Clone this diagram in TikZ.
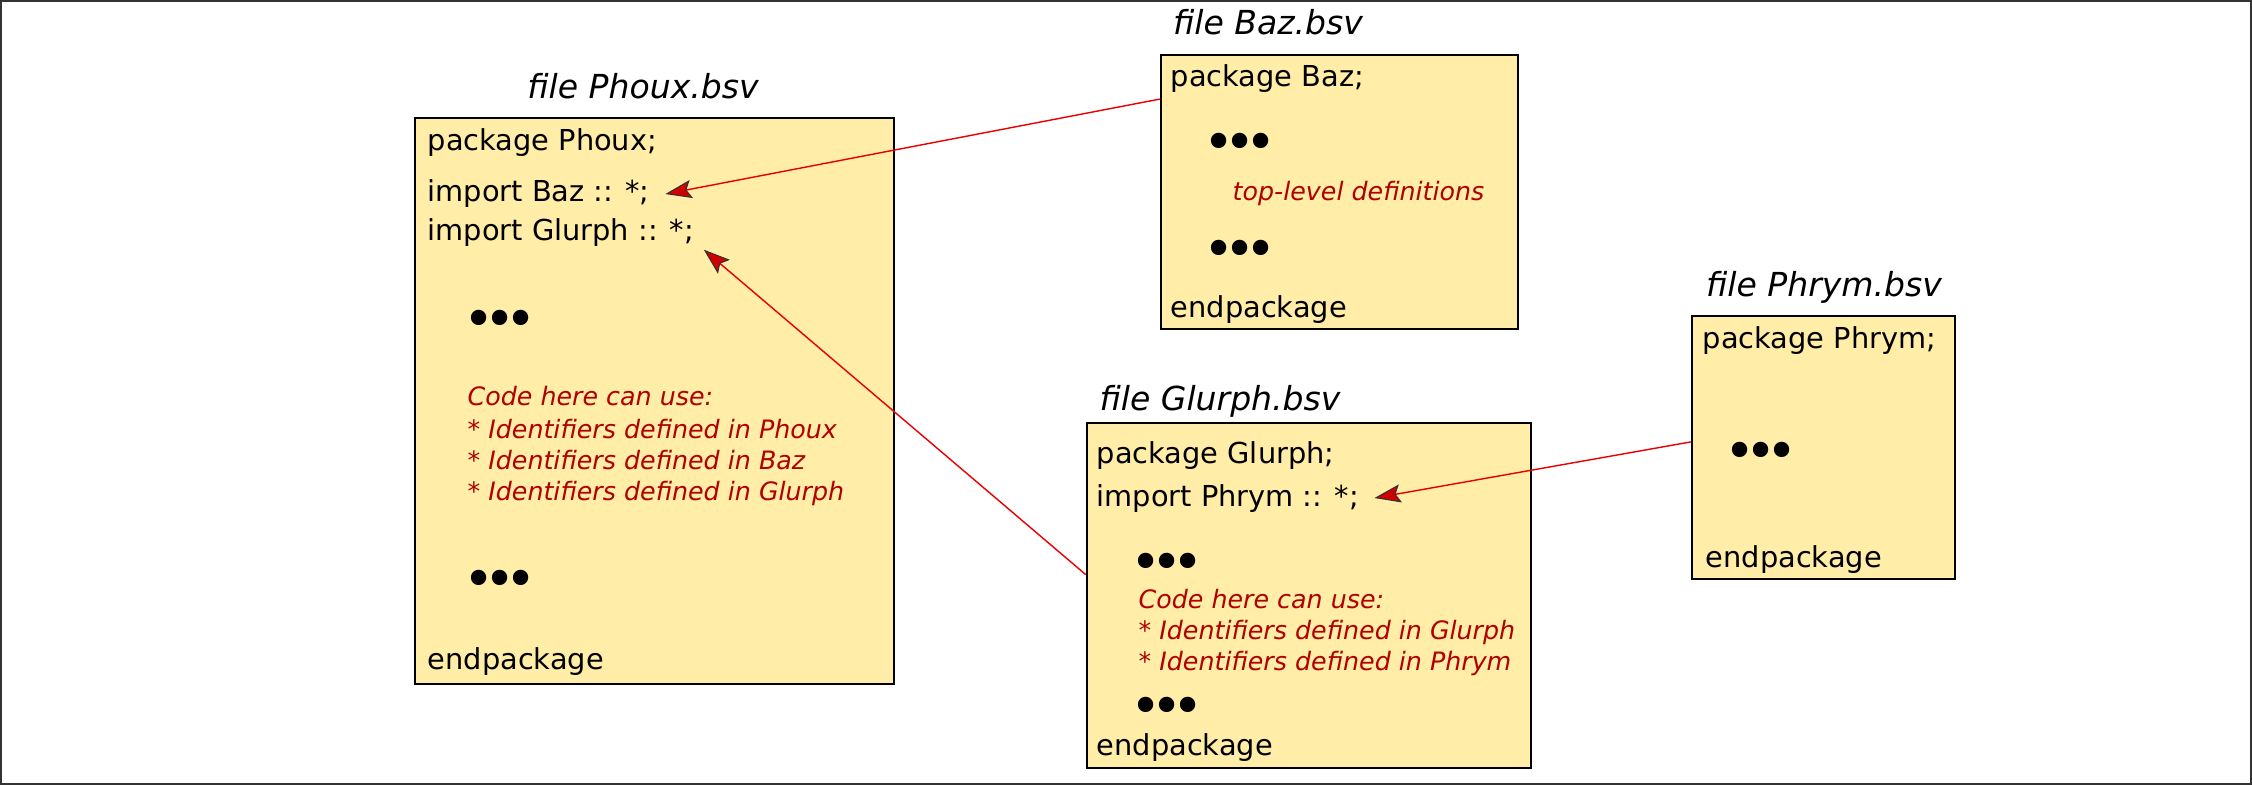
\documentclass[tikz,border=0pt]{standalone}
\usepackage{fontspec}
\setmainfont{DejaVu Sans}
\usepackage{xcolor}
\usetikzlibrary{
		arrows.meta,
		calc,
		fit
	}
\definecolor{pkgfill}{RGB}{255,237,168}
\definecolor{notered}{RGB}{176,0,0}
\definecolor{arrowred}{RGB}{232,0,0}
\definecolor{tipred}{RGB}{210,0,0}
\newcommand{\threedots}{•\kern-2.9pt•\kern-2.9pt•}
\tikzset{
		>=stealth,
		pkgbox/.style={draw=black, line width=0.7pt, fill=pkgfill, inner sep=0pt},
		codeline/.style={anchor=base west, inner sep=0pt, font=\fontsize{8.2}{10}\selectfont},
		note/.style={anchor=base west, inner sep=0pt, text=notered, font=\fontsize{7.2}{9}\selectfont\itshape},
		fname/.style={anchor=base, inner sep=0pt, font=\fontsize{9.4}{11}\selectfont\itshape},
		bdots/.style={anchor=base west, inner sep=0pt, font=\fontsize{15}{16}\selectfont},
		imp/.style={draw=arrowred, line width=0.4pt, -{Stealth[length=7.5pt, width=5.2pt, inset=1.4pt, color=black!80, fill=tipred, line width=0.3pt]}}
	}

\begin{document}
\begin{tikzpicture}[x=0.01cm, y=-0.01cm]
        % the page and its frame
        \useasboundingbox (0,0) rectangle (2252,785);
        \draw[line width=0.6pt, black!80] (1,1) rectangle (2251,784);

        % draw the packages
        \node[pkgbox, fit={(415,118) (894,684)}] (phoux) {};
        \node[pkgbox, fit={(1161,55) (1518,329)}] (baz) {};
        \node[pkgbox, fit={(1087,423) (1531,768)}] (glurph) {};
        \node[pkgbox, fit={(1692,316) (1955,579)}] (phrym) {};

        % the file names
        \node[fname] (phouxname) at (643,99) {file Phoux.bsv};
        \node[fname] (bazname) at (1268,35) {file Baz.bsv};
        \node[fname] (glurphname) at (1220,410) {file Glurph.bsv};
        \node[fname] (phrymname) at (1824,296) {file Phrym.bsv};

        % Phoux.bsv
        \node[codeline] (phouxpkg) at (427,150) {package Phoux;};
        \node[codeline] (phouxbaz) at (427,202) {import Baz :: *;};
        \node[codeline] (phouxglurph) at (427,240) {import Glurph :: *;};
        \node[bdots] (phouxdotsa) at (463,337) {\threedots};
        \node[note] (phouxnotea) at (467,405) {Code here can use:};
        \node[note] (phouxnoteb) at (467,438) {* Identifiers defined in Phoux};
        \node[note] (phouxnotec) at (467,469) {* Identifiers defined in Baz};
        \node[note] (phouxnoted) at (467,500) {* Identifiers defined in Glurph};
        \node[bdots] (phouxdotsb) at (463,597) {\threedots};
        \node[codeline] (phouxend) at (427,669) {endpackage};

        % Baz.bsv
        \node[codeline] (bazpkg) at (1170,87) {package Baz;};
        \node[bdots] (bazdotsa) at (1203,160) {\threedots};
        \node[note] (baznote) at (1232,201) {top-level definitions};
        \node[bdots] (bazdotsb) at (1203,267) {\threedots};
        \node[codeline] (bazend) at (1170,317) {endpackage};

        % Glurph.bsv
        \node[codeline] (glurphpkg) at (1096,463) {package Glurph;};
        \node[codeline] (glurphphrym) at (1096,506) {import Phrym :: *;};
        \node[bdots] (glurphdotsa) at (1130,580) {\threedots};
        \node[note] (glurphnotea) at (1138,608) {Code here can use:};
        \node[note] (glurphnoteb) at (1138,639) {* Identifiers defined in Glurph};
        \node[note] (glurphnotec) at (1138,670) {* Identifiers defined in Phrym};
        \node[bdots] (glurphdotsb) at (1130,724) {\threedots};
        \node[codeline] (glurphend) at (1096,755) {endpackage};

        % Phrym.bsv
        \node[codeline] (phrympkg) at (1702,348) {package Phrym;};
        \node[bdots] (phrymdots) at (1724,469) {\threedots};
        \node[codeline] (phrymend) at (1705,567) {endpackage};

        % the ends of the imports
        \coordinate (bazout) at ($(baz.north west)!0.164!(baz.south west)$);
        \coordinate (bazin) at ($(phouxbaz.east)+(15,0)$);
        \coordinate (glurphout) at ($(glurph.north west)!0.44!(glurph.south west)$);
        \coordinate (glurphin) at ($(phouxglurph.south east)+(9,3)$);
        \coordinate (phrymout) at ($(phrym.north west)!0.479!(phrym.south west)$);
        \coordinate (phrymin) at ($(glurphphrym.east)+(15,0)$);

        % draw the arrows
        \draw[imp] (bazout) -- (bazin);
        \draw[imp] (glurphout) -- (glurphin);
        \draw[imp] (phrymout) -- (phrymin);

    \end{tikzpicture}
\end{document}
